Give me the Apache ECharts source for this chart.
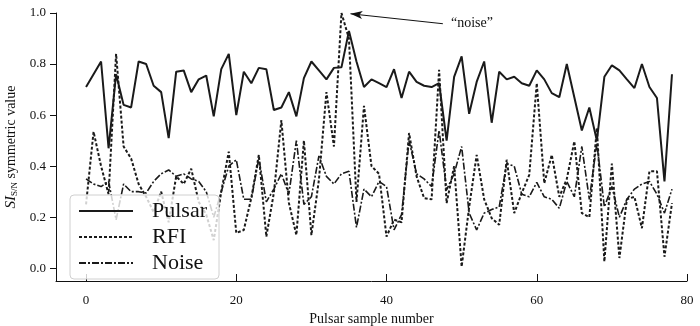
<!DOCTYPE html>
<html>
<head>
<meta charset="UTF-8">
<title>SI symmetric value</title>
<script src="https://cdn.jsdelivr.net/npm/echarts@6/dist/echarts.min.js"></script>
<style>html,body{margin:0;padding:0;background:#fff}</style>
</head>
<body>
<div id="chart" style="width:700px;height:326px"></div>
<script type="text/javascript">
// values, sample 0..78
var pulsar=[0.71,0.76,0.81,0.47,0.76,0.64,0.63,0.81,0.80,0.715,
	0.69,0.51,0.77,0.775,0.69,0.74,0.755,0.595,0.78,0.84,
	0.60,0.77,0.725,0.785,0.78,0.62,0.63,0.69,0.595,0.745,
	0.81,0.775,0.74,0.785,0.787,0.93,0.81,0.71,0.74,0.725,
	0.71,0.78,0.667,0.77,0.73,0.715,0.71,0.725,0.50,0.75,
	0.83,0.605,0.73,0.81,0.57,0.77,0.74,0.75,0.725,0.715,
	0.775,0.74,0.686,0.67,0.80,0.67,0.54,0.63,0.50,0.75,
	0.795,0.775,0.74,0.706,0.80,0.71,0.667,0.34,0.76];
var rfi=[0.25,0.535,0.40,0.29,0.84,0.477,0.43,0.33,0.28,0.22,
	0.30,0.18,0.36,0.33,0.39,0.26,0.21,0.11,0.30,0.457,
	0.138,0.15,0.275,0.444,0.124,0.295,0.58,0.256,0.13,0.50,
	0.13,0.346,0.69,0.477,1.0,0.90,0.26,0.636,0.40,0.37,
	0.124,0.19,0.18,0.53,0.36,0.275,0.27,0.777,0.255,0.40,
	0.006,0.24,0.444,0.27,0.196,0.17,0.425,0.216,0.294,0.366,
	0.725,0.333,0.444,0.28,0.35,0.497,0.216,0.20,0.55,0.026,
	0.41,0.04,0.27,0.28,0.157,0.38,0.38,0.045,0.255];
var noise=[0.35,0.33,0.32,0.34,0.19,0.33,0.30,0.30,0.295,0.34,
	0.37,0.385,0.36,0.37,0.35,0.34,0.30,0.20,0.30,0.40,
	0.425,0.27,0.27,0.43,0.26,0.31,0.37,0.29,0.50,0.25,
	0.28,0.44,0.36,0.33,0.37,0.38,0.16,0.31,0.28,0.34,
	0.32,0.15,0.21,0.50,0.37,0.35,0.32,0.54,0.307,0.37,
	0.477,0.216,0.15,0.216,0.23,0.24,0.41,0.40,0.29,0.28,
	0.336,0.28,0.27,0.235,0.34,0.28,0.477,0.27,0.49,0.24,
	0.32,0.20,0.27,0.31,0.33,0.34,0.29,0.216,0.31];
var xTicks=[0,20,40,60,80];
var yTicks=[0,0.2,0.4,0.6,0.8,1.0];
// arrow of the "noise" note, in data units
var arrowFrom=[47.5,0.958];
var arrowTo=[35.2,0.997];

var font='"Liberation Serif", "Times New Roman", serif';

function pairs(arr){
	return arr.map(function(v,i){return [i,v];});
}

var mychart=echarts.init(document.getElementById('chart'));
var option={
	animation:false,
	backgroundColor:'#fff',
	textStyle:{fontFamily:font,color:'#111'},
	grid:{left:56,right:13,top:13,bottom:45,outerBoundsMode:'none'},
	legend:{
		data:['Pulsar','RFI','Noise'],
		orient:'vertical',
		left:70,top:195,
		padding:[5,12,5,8],
		itemWidth:54,itemHeight:14,itemGap:4,
		itemStyle:{opacity:0},
		backgroundColor:'rgba(255,255,255,0.8)',
		borderColor:'#d0d0d0',borderWidth:1,borderRadius:4,
		textStyle:{fontFamily:font,fontSize:22,color:'#111',padding:[0,0,0,14],lineHeight:20}
	},
	xAxis:{
		type:'value',min:-4,max:80,
		name:'Pulsar sample number',nameLocation:'middle',nameGap:30,
		nameTextStyle:{fontFamily:font,fontSize:14,color:'#111'},
		axisLine:{onZero:false,lineStyle:{color:'#111',width:1}},
		axisTick:{inside:true,length:7,customValues:xTicks,lineStyle:{color:'#111'}},
		axisLabel:{customValues:xTicks,margin:13,fontFamily:font,fontSize:13,color:'#111'},
		splitLine:{show:false}
	},
	yAxis:{
		type:'value',min:-0.05,max:1,
		name:'{i|SI}{s|S/N}{n| symmetric value}',nameLocation:'middle',nameGap:37,
		nameTextStyle:{fontFamily:font,fontSize:14,color:'#111',rich:{
			i:{fontFamily:font,fontSize:15,fontStyle:'italic',color:'#111'},
			s:{fontFamily:font,fontSize:9,color:'#111',padding:[6,0,0,0]},
			n:{fontFamily:font,fontSize:14,color:'#111'}
		}},
		axisLine:{onZero:false,lineStyle:{color:'#111',width:1}},
		axisTick:{length:6,customValues:yTicks,lineStyle:{color:'#111'}},
		axisLabel:{customValues:yTicks,margin:10,fontFamily:font,fontSize:13,color:'#111',
			formatter:function(v){return v.toFixed(1);}},
		splitLine:{show:false}
	},
	graphic:[{
		type:'text',left:451,top:16,
		style:{text:'\u201cnoise\u201d',font:'14px '+font,fill:'#111'}
	}],
	series:[{
		name:'Pulsar',type:'line',symbol:'none',data:pairs(pulsar),z:3,
		itemStyle:{color:'#1a1a1a'},
		lineStyle:{color:'#1a1a1a',width:2,type:'solid'}
	},{
		name:'RFI',type:'line',symbol:'none',data:pairs(rfi),z:2,
		itemStyle:{color:'#1a1a1a'},
		lineStyle:{color:'#1a1a1a',width:2,type:[3,2]},
		markLine:{
			silent:true,symbol:['none','arrow'],symbolSize:[6,12],
			label:{show:false},
			lineStyle:{color:'#111',width:1,type:'solid'},
			data:[[{coord:arrowFrom},{coord:arrowTo}]]
		}
	},{
		name:'Noise',type:'line',symbol:'none',data:pairs(noise),z:1,
		itemStyle:{color:'#1a1a1a'},
		lineStyle:{color:'#1a1a1a',width:1.6,type:[7,2,2,2]}
	}]
};
mychart.setOption(option);
</script>
</body>
</html>
